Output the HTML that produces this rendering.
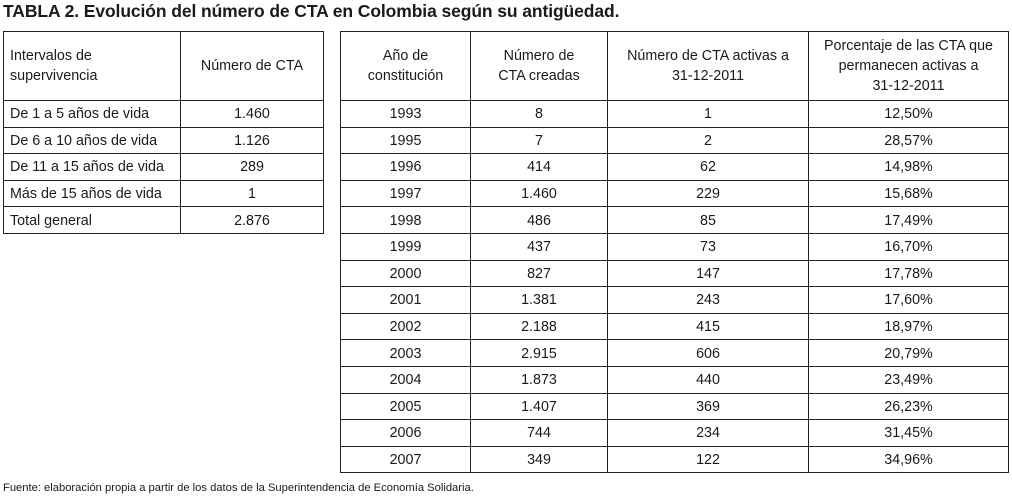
<!DOCTYPE html>
<html><head><meta charset="utf-8"><style>
body{margin:0;width:1012px;height:500px;background:#fff;position:relative;font-family:"Liberation Sans",sans-serif;color:#1a1a1a;overflow:hidden}
.title{position:absolute;left:3px;top:1px;font-size:17.5px;font-weight:bold;letter-spacing:-0.1px}
table{position:absolute;top:31px;border-collapse:collapse;table-layout:fixed;font-size:14.3px}
td,th{border:1px solid #222;padding:0 6px;font-weight:normal;line-height:20px}
th{height:68px}
td{height:23.6px;padding-top:2px;text-align:center;line-height:17px}
#lt td:first-child{text-align:left}
#lt th:first-child{text-align:left}
.foot{position:absolute;left:3px;top:482px;font-size:11.2px}
</style></head><body>
<div class="title">TABLA 2. Evolución del número de CTA en Colombia según su antigüedad.</div>
<table id="lt" style="left:3px;width:320px">
<colgroup><col style="width:177px"><col style="width:143px"></colgroup>
<tr><th>Intervalos de<br>supervivencia</th><th>Número de CTA</th></tr>
<tr><td>De 1 a 5 años de vida</td><td>1.460</td></tr>
<tr><td>De 6 a 10 años de vida</td><td>1.126</td></tr>
<tr><td>De 11 a 15 años de vida</td><td>289</td></tr>
<tr><td>Más de 15 años de vida</td><td>1</td></tr>
<tr><td>Total general</td><td>2.876</td></tr>
</table>
<table id="rt" style="left:340px;width:668px">
<colgroup><col style="width:130px"><col style="width:137px"><col style="width:201px"><col style="width:200px"></colgroup>
<tr><th>Año de<br>constitución</th><th>Número de<br>CTA creadas</th><th>Número de CTA activas a<br>31-12-2011</th><th>Porcentaje de las CTA que<br>permanecen activas a<br>31-12-2011</th></tr>
<tr><td>1993</td><td>8</td><td>1</td><td>12,50%</td></tr>
<tr><td>1995</td><td>7</td><td>2</td><td>28,57%</td></tr>
<tr><td>1996</td><td>414</td><td>62</td><td>14,98%</td></tr>
<tr><td>1997</td><td>1.460</td><td>229</td><td>15,68%</td></tr>
<tr><td>1998</td><td>486</td><td>85</td><td>17,49%</td></tr>
<tr><td>1999</td><td>437</td><td>73</td><td>16,70%</td></tr>
<tr><td>2000</td><td>827</td><td>147</td><td>17,78%</td></tr>
<tr><td>2001</td><td>1.381</td><td>243</td><td>17,60%</td></tr>
<tr><td>2002</td><td>2.188</td><td>415</td><td>18,97%</td></tr>
<tr><td>2003</td><td>2.915</td><td>606</td><td>20,79%</td></tr>
<tr><td>2004</td><td>1.873</td><td>440</td><td>23,49%</td></tr>
<tr><td>2005</td><td>1.407</td><td>369</td><td>26,23%</td></tr>
<tr><td>2006</td><td>744</td><td>234</td><td>31,45%</td></tr>
<tr><td>2007</td><td>349</td><td>122</td><td>34,96%</td></tr>
</table>
<div class="foot">Fuente: elaboración propia a partir de los datos de la Superintendencia de Economía Solidaria.</div>
</body></html>
